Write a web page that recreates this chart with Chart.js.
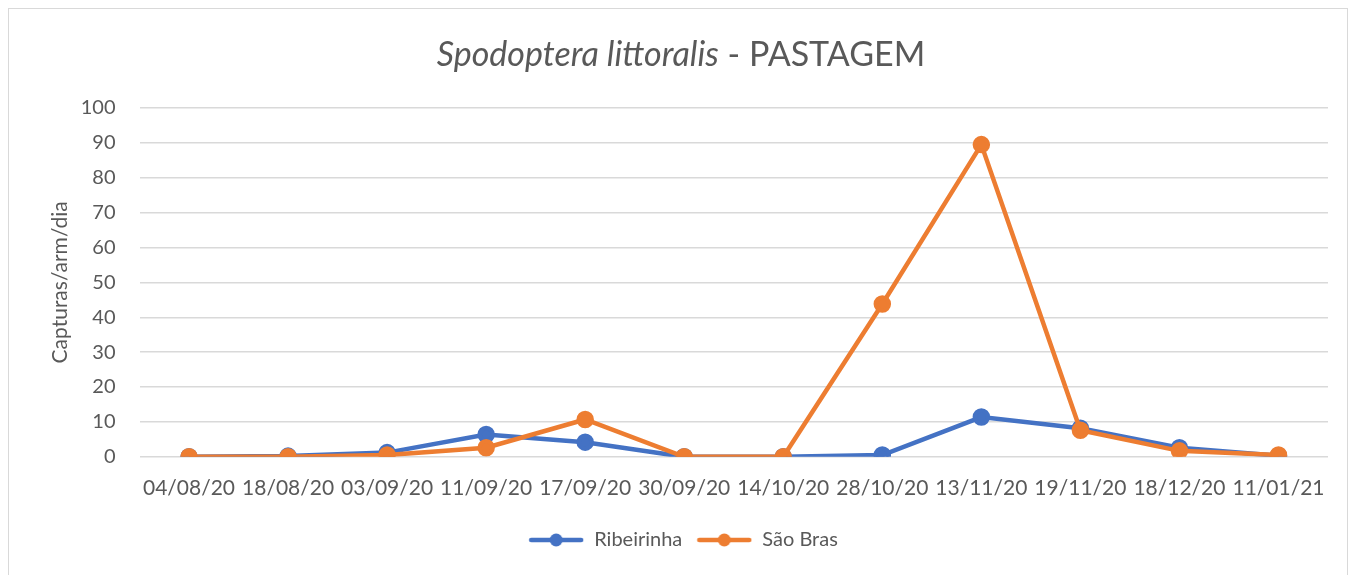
<!DOCTYPE html>
<html>
<head>
<meta charset="utf-8">
<script src="https://cdn.jsdelivr.net/npm/chart.js@4"></script>
<style>
  body { margin: 0; background: #fff; }
  #box { position: absolute; left: 8px; top: 8px; width: 1338px; height: 580px; border: 1px solid #d9d9d9; }
  #wrap { position: absolute; left: 0; top: 0; width: 1355px; height: 575px; }
</style>
</head>
<body>
<div id="box"></div>
<div id="wrap"><canvas id="grafico"></canvas></div>
<script>
const datas = ['04/08/20', '18/08/20', '03/09/20', '11/09/20', '17/09/20', '30/09/20', '14/10/20', '28/10/20', '13/11/20', '19/11/20', '18/12/20', '11/01/21'];
const ribeirinha = [0, 0.2, 1.2, 6.4, 4.2, 0, 0, 0.5, 11.4, 8.2, 2.6, 0.3];
const saoBras = [0, 0, 0.5, 2.6, 10.7, 0, 0, 43.8, 89.5, 7.6, 1.7, 0.5];
const ticksY = [0, 10, 20, 30, 40, 50, 60, 70, 80, 90, 100];
const tituloItalico = 'Spodoptera littoralis';
const tituloResto = ' - PASTAGEM';

const azul = '#4472c4';
const laranja = '#ed7d31';
const cinza = '#595959';
const fonte = 'Lato, "Open Sans", sans-serif';

// marcador da legenda: linha com ponto
function marcador(cor) {
  const c = document.createElement('canvas');
  c.width = 56; c.height = 14;
  const g = c.getContext('2d');
  g.strokeStyle = cor;
  g.lineWidth = 4.5;
  g.lineCap = 'round';
  g.beginPath(); g.moveTo(3, 7); g.lineTo(53, 7); g.stroke();
  g.fillStyle = cor;
  g.beginPath(); g.arc(28, 7, 6.5, 0, Math.PI * 2); g.fill();
  return c;
}

// título com parte em itálico
const titulo = {
  id: 'titulo',
  afterDraw(chart) {
    const g = chart.ctx;
    g.save();
    g.fillStyle = cinza;
    g.textBaseline = 'middle';
    const fIt = 'italic 34px ' + fonte;
    const fN = '34px ' + fonte;
    g.font = fIt;
    const w1 = g.measureText(tituloItalico).width;
    g.font = fN;
    const w2 = g.measureText(tituloResto).width;
    const x0 = 681 - (w1 + w2) / 2;
    g.font = fIt;
    g.fillText(tituloItalico, x0, 55);
    g.font = fN;
    g.fillText(tituloResto, x0 + w1, 55);
    g.restore();
  }
};

const ctx = document.getElementById('grafico').getContext('2d');

const grafico = new Chart(ctx, {
  type: 'line',
  data: {
    labels: datas,
    datasets: [{
      label: 'Ribeirinha',
      data: ribeirinha,
      borderColor: azul,
      backgroundColor: azul,
      borderWidth: 4.5,
      pointRadius: 6.5,
      pointHoverRadius: 6.5,
      tension: 0,
      order: 2
    }, {
      label: 'São Bras',
      data: saoBras,
      borderColor: laranja,
      backgroundColor: laranja,
      borderWidth: 4.5,
      pointRadius: 6.5,
      pointHoverRadius: 6.5,
      tension: 0,
      order: 1
    }]
  },
  plugins: [titulo],
  options: {
    responsive: true,
    maintainAspectRatio: false,
    animation: false,
    layout: { padding: { left: 38, right: 27, top: 108, bottom: 15 } },
    plugins: {
      title: { display: false },
      legend: {
        position: 'bottom',
        labels: {
          color: cinza,
          font: { family: fonte, size: 20 },
          usePointStyle: true,
          pointStyleWidth: 56,
          padding: 14,
          generateLabels: (chart) => chart.data.datasets.map((ds, i) => ({
            text: ds.label,
            fillStyle: ds.borderColor,
            strokeStyle: ds.borderColor,
            fontColor: cinza,
            pointStyle: marcador(ds.borderColor),
            lineWidth: 0,
            datasetIndex: i
          }))
        }
      },
      tooltip: { enabled: false }
    },
    scales: {
      x: {
        offset: true,
        grid: { display: false },
        border: { display: false },
        ticks: { color: cinza, font: { family: fonte, size: 21 }, maxRotation: 0, padding: 11 },
        afterFit: (axis) => { axis.height += 4; }
      },
      y: {
        min: 0,
        max: 100,
        afterBuildTicks: (axis) => { axis.ticks = ticksY.map(v => ({ value: v })); },
        afterFit: (axis) => { axis.width = 101.5; },
        grid: { color: '#d9d9d9', lineWidth: 1.5, drawTicks: false },
        border: { display: false },
        ticks: { color: cinza, font: { family: fonte, size: 20 }, padding: 24 },
        title: {
          display: true,
          text: 'Capturas/arm/dia',
          color: cinza,
          font: { family: fonte, size: 21 },
          padding: 9.5
        }
      }
    }
  }
});
</script>
</body>
</html>
